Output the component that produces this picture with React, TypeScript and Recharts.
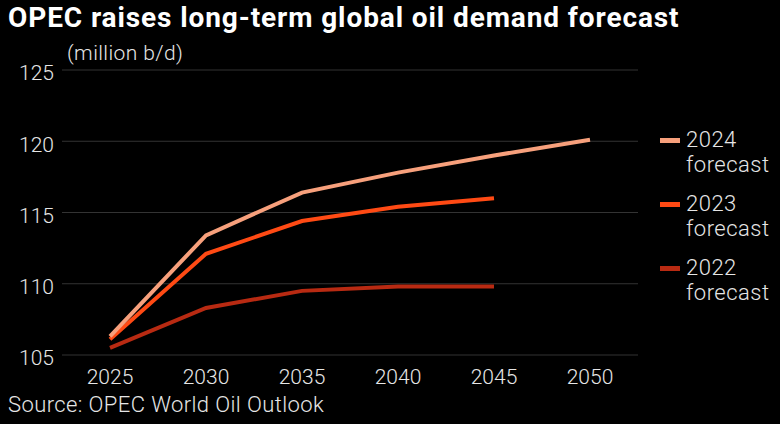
import {
    LineChart,
    Line,
    XAxis,
    YAxis,
    CartesianGrid,
} from "recharts";

// 年
const years = [2025, 2030, 2035, 2040, 2045, 2050];

// 各予測の値 (million b/d)
const forecast2024 = [106.3, 113.4, 116.4, 117.8, 119.0, 120.1];
const forecast2023 = [106.1, 112.1, 114.4, 115.4, 116.0, null];
const forecast2022 = [105.5, 108.3, 109.5, 109.8, 109.8, null];

const yTicks = [105, 110, 115, 120, 125];

const seriesList = [
    { key: "f2024", label: "2024", color: "#F7A07C" },
    { key: "f2023", label: "2023", color: "#FF4A14" },
    { key: "f2022", label: "2022", color: "#B82A12" },
];

const data = years.map((year, i) => ({
    year: year,
    f2024: forecast2024[i],
    f2023: forecast2023[i],
    f2022: forecast2022[i],
}));

const FONT = "Roboto, 'DejaVu Sans', sans-serif";
const TEXT = "#e6e6e6";

function LegendBox() {
    return (
        <div
            style={{
                position: "absolute",
                left: 660,
                top: 127,
                fontFamily: FONT,
                fontWeight: 300,
                fontSize: 22,
                letterSpacing: 0.5,
                color: TEXT,
            }}
        >
            {seriesList.map((s) => (
                <div key={s.key} style={{ display: "flex", alignItems: "flex-start", marginBottom: 14 }}>
                    <div style={{ width: 20, height: 5, background: s.color, marginTop: 11, marginRight: 6 }} />
                    <div style={{ lineHeight: "25px" }}>
                        {s.label}
                        <br />
                        forecast
                    </div>
                </div>
            ))}
        </div>
    );
}

function App() {
    return (
        <div
            style={{
                position: "absolute",
                left: 0,
                top: 0,
                width: 780,
                height: 424,
                background: "#000",
                overflow: "hidden",
            }}
        >
            <div
                style={{
                    position: "absolute",
                    left: 8,
                    top: 1,
                    fontFamily: FONT,
                    fontWeight: 700,
                    fontSize: 28,
                    color: "#fff",
                    letterSpacing: 0.9,
                    whiteSpace: "nowrap",
                }}
            >
                OPEC raises long-term global oil demand forecast
            </div>
            <div
                style={{
                    position: "absolute",
                    left: 67,
                    top: 41,
                    fontFamily: FONT,
                    fontWeight: 300,
                    fontSize: 21,
                    letterSpacing: 0.4,
                    color: TEXT,
                }}
            >
                (million b/d)
            </div>
            <LineChart
                width={780}
                height={424}
                data={data}
                margin={{ top: 70, right: 142, bottom: 39, left: 0 }}
            >
                <CartesianGrid vertical={false} stroke="#333" strokeWidth={1} />
                <XAxis
                    dataKey="year"
                    type="number"
                    domain={[2022.5, 2052.5]}
                    ticks={years}
                    axisLine={false}
                    tickLine={false}
                    height={30}
                    tickMargin={8}
                    tick={{ fill: TEXT, fontSize: 21, fontFamily: FONT, fontWeight: 300 }}
                />
                <YAxis
                    domain={[105, 125]}
                    ticks={yTicks}
                    axisLine={false}
                    tickLine={false}
                    width={62}
                    tick={{ fill: TEXT, fontSize: 21, fontFamily: FONT, fontWeight: 300, dy: 3 }}
                />
                {seriesList.slice().reverse().map((s) => (
                    <Line
                        key={s.key}
                        type="linear"
                        dataKey={s.key}
                        stroke={s.color}
                        strokeWidth={4}
                        dot={false}
                        activeDot={false}
                        isAnimationActive={false}
                    />
                ))}
            </LineChart>
            <LegendBox />
            <div
                style={{
                    position: "absolute",
                    left: 8,
                    top: 392,
                    fontFamily: FONT,
                    fontWeight: 300,
                    fontSize: 22,
                    letterSpacing: 0.4,
                    color: TEXT,
                }}
            >
                Source: OPEC World Oil Outlook
            </div>
        </div>
    );
}

export default App;
